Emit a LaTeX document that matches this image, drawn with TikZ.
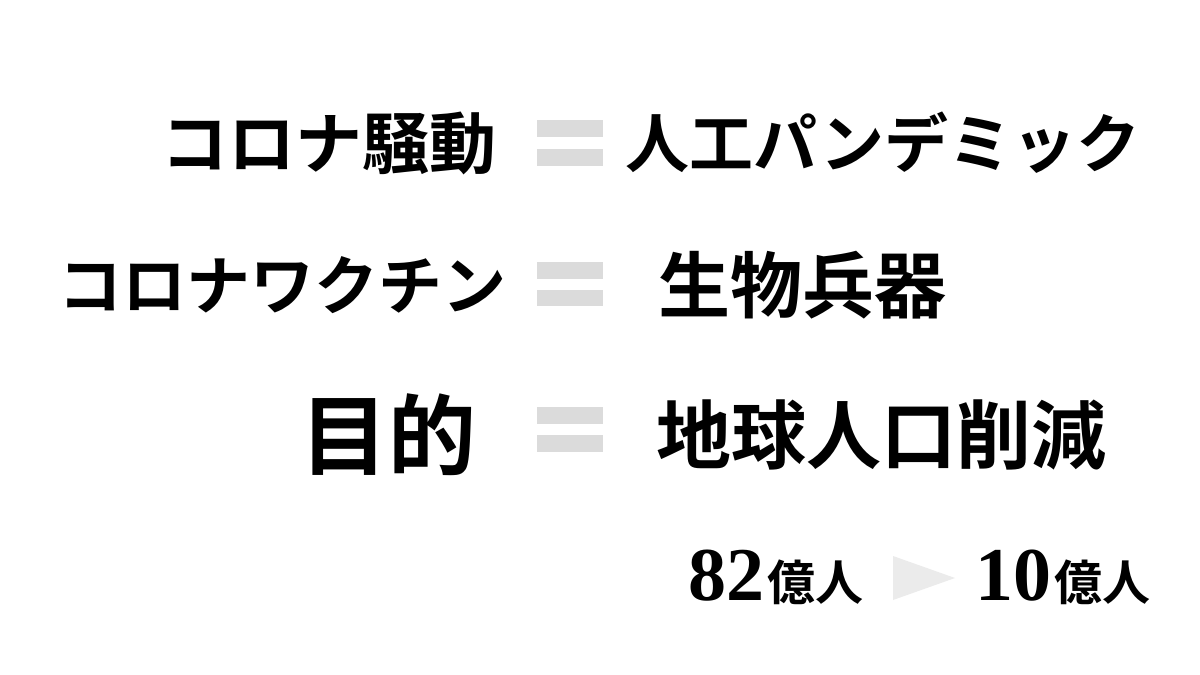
\documentclass[tikz,border=0pt]{standalone}
\usepackage{fontspec}
\newfontfamily\cjk{Noto Sans CJK JP}[BoldFont={Noto Sans CJK JP Bold}]
\newfontfamily\serifnum{Liberation Serif}
\newcommand\fs[1]{\fontsize{#1}{#1}\selectfont}
\begin{document}
\begin{tikzpicture}[x=1pt,y=-1pt,
  txt/.style={inner sep=0pt,font=\cjk\bfseries\fs{60}},
  bar/.style={fill=black!14,draw=none}]
\useasboundingbox[fill=white] (0,0) rectangle (1200,675);
% row 1
\node[txt,anchor=east,font=\cjk\bfseries\fs{67}] (a1) at (497,143) {コロナ騒動};
\fill[bar] (537,120) rectangle (603,137);
\fill[bar] (537,149) rectangle (603,166);
\node[txt,anchor=west,font=\cjk\bfseries\fs{64}] (b1) at (625,143) {人工パンデミック};
% row 2
\node[txt,anchor=east,font=\cjk\bfseries\fs{64}] (a2) at (507,285) {コロナワクチン};
\fill[bar] (537,262) rectangle (603,279);
\fill[bar] (537,290) rectangle (603,306);
\node[txt,anchor=west,font=\cjk\bfseries\fs{72}] (b2) at (658,285) {生物兵器};
% row 3
\node[txt,anchor=east,font=\cjk\bfseries\fs{88}] (a3) at (477,435) {目的};
\fill[bar] (537,407) rectangle (603,424);
\fill[bar] (537,435) rectangle (603,452);
\node[txt,anchor=west,font=\cjk\bfseries\fs{75}] (b3) at (656,435) {地球人口削減};
% row 4
\node[inner sep=0pt,anchor=base west] (c1) at (688,600) {\serifnum\bfseries\fs{76}82\kern3pt\cjk\fs{48}億人};
\fill[black!8] (893,556) -- (955,578) -- (893,600) -- cycle;
\node[inner sep=0pt,anchor=base west] (c2) at (975,600) {\serifnum\bfseries\fs{76}10\kern3pt\cjk\fs{48}億人};
\end{tikzpicture}
\end{document}
